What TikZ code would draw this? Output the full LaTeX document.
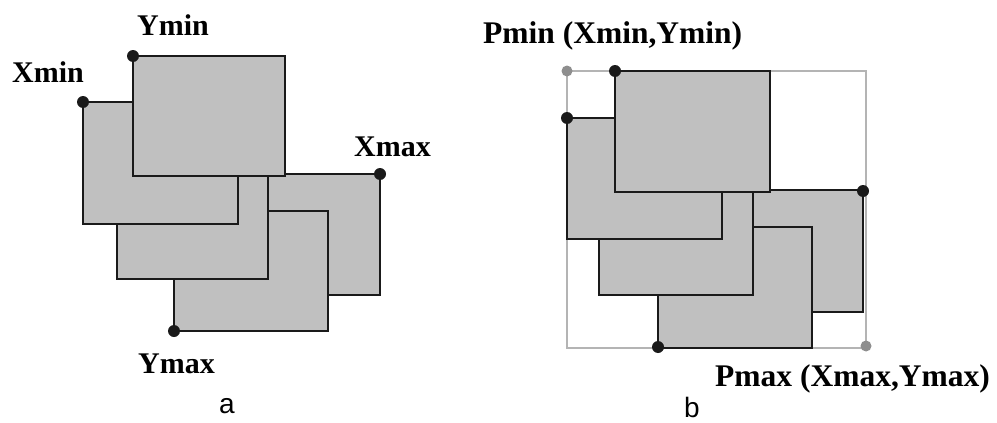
\documentclass[tikz,border=0pt]{standalone}
\usepackage{fontspec}
\setmainfont{Liberation Serif}
\newfontfamily\capfont{Liberation Sans}
\definecolor{sheetgray}{HTML}{C0C0C0}
\definecolor{ink}{HTML}{1A1A1A}
\definecolor{framegray}{HTML}{B4B4B4}
\definecolor{dotgray}{HTML}{8E8E8E}
\tikzset{
  sheet/.style={fill=sheetgray, draw=ink, line width=1.2pt},
  heavy/.style={draw=ink, line width=2.6pt, line join=miter},
  blackdot/.style={circle, fill=ink, inner sep=0pt, minimum size=12pt},
  greydot/.style={circle, fill=dotgray, inner sep=0pt, minimum size=11pt},
  tag/.style={font=\bfseries\fontsize{30}{30}\selectfont, inner sep=0pt, anchor=base west},
  bigtag/.style={font=\bfseries\fontsize{31.5}{32}\selectfont, inner sep=0pt, anchor=base west},
  caption/.style={font=\capfont\fontsize{28}{28}\selectfont, inner sep=0pt, anchor=base},
  frame/.style={draw=framegray, line width=1.4pt},
}
% one grey sheet: thin top/left outline, heavier right/bottom edges
\newcommand{\drawsheet}[4]{%
  \filldraw[sheet] (#1,#2) rectangle (#3,#4);
  \draw[heavy] (#3,#2) -- (#3,#4) -- (#1,#4);
}
\begin{document}
\begin{tikzpicture}[x=1pt,y=-1pt]
\useasboundingbox[fill=white] (0,0) rectangle (997,423);

% ---------- panel a ----------
\drawsheet{250}{174}{380}{295}  % Xmax sheet
\drawsheet{174}{211}{328}{331}  % Ymax sheet
\drawsheet{117}{150}{268}{279}
\drawsheet{83}{102}{238}{224}   % Xmin sheet
\drawsheet{133}{56}{285}{176}   % Ymin sheet

\coordinate (aymin) at (133,56);
\coordinate (axmin) at (83,102);
\coordinate (axmax) at (380,174);
\coordinate (aymax) at (174,331);
\node[blackdot] (daymin) at (aymin) {};
\node[blackdot] (daxmin) at (axmin) {};
\node[blackdot] (daxmax) at (axmax) {};
\node[blackdot] (daymax) at (aymax) {};

\node[tag] (lymin) at (137,35) {Ymin};
\node[tag] (lxmin) at (12,82) {Xmin};
\node[tag] (lxmax) at (354,156) {Xmax};
\node[tag] (lymax) at (138,373) {Ymax};
\node[caption] (capa) at (227,413) {a};

% ---------- panel b ----------
\draw[frame] (567,71) rectangle (866,348);
\drawsheet{740}{190}{863}{312}
\drawsheet{658}{227}{812}{348}
\drawsheet{599}{160}{753}{295}
\drawsheet{567}{118}{722}{239}
\drawsheet{615}{71}{770}{192}

\node[greydot] (pmin) at (567,71) {};
\node[greydot] (pmax) at (866,346) {};
\node[blackdot] (bymin) at (615,71) {};
\node[blackdot] (bxmin) at (567,118) {};
\node[blackdot] (bxmax) at (863,191) {};
\node[blackdot] (bymax) at (658,347) {};

\node[bigtag] (lpmin) at (483,43) {Pmin (Xmin,Ymin)};
\node[bigtag] (lpmax) at (715,386) {Pmax (Xmax,Ymax)};
\node[caption] (capb) at (692,417) {b};
\end{tikzpicture}
\end{document}
